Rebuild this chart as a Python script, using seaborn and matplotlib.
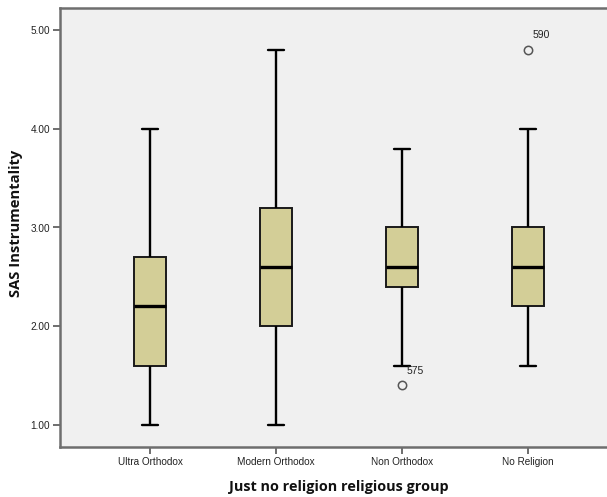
import matplotlib
matplotlib.use("Agg")
import matplotlib.pyplot as plt
import pandas as pd
import seaborn as sns

# Scores per religious group
groups = ["Ultra Orthodox", "Modern Orthodox", "Non Orthodox", "No Religion"]
ultra_orthodox = [1.0, 1.6, 2.2, 2.7, 4.0]
modern_orthodox = [1.0, 2.0, 2.6, 3.2, 4.8]
non_orthodox = [1.4, 1.6, 2.4, 2.5, 2.6, 2.8, 3.0, 3.4, 3.8]
no_religion = [1.6, 2.0, 2.2, 2.4, 2.6, 2.8, 3.0, 4.0, 4.8]

# Case numbers of the outlying respondents
outlier_groups = ["Non Orthodox", "No Religion"]
outlier_values = [1.4, 4.8]
outlier_cases = ["575", "590"]

y_ticks = [1.0, 2.0, 3.0, 4.0, 5.0]

series = [ultra_orthodox, modern_orthodox, non_orthodox, no_religion]
df = pd.DataFrame({
    "group": [g for g, vals in zip(groups, series) for _ in vals],
    "score": [v for vals in series for v in vals],
})

sns.set_style("white")
plt.rcParams["font.family"] = ["Liberation Sans", "DejaVu Sans"]

fig = plt.figure(figsize=(6.07, 4.97), dpi=100)
ax = fig.add_axes([60 / 607, 1 - 447 / 497, 1 - 60 / 607, 439 / 497])
ax.set_facecolor("#f0f0f0")

sns.boxplot(
    data=df, x="group", y="score", order=groups, ax=ax,
    width=0.25, whis=1.5, color="#d3ce97", saturation=1,
    linecolor="#1a1a1a", linewidth=1.4,
    capwidths=0.13,
    medianprops=dict(color="black", linewidth=2.4),
    whiskerprops=dict(color="black", linewidth=1.7),
    capprops=dict(color="black", linewidth=1.7),
    flierprops=dict(marker="o", markerfacecolor="none",
                    markeredgecolor="#555555", markersize=6,
                    markeredgewidth=1.1),
)

for g, v, case in zip(outlier_groups, outlier_values, outlier_cases):
    ax.annotate(case, (groups.index(g), v), xytext=(3, 7),
                textcoords="offset points", fontsize=7.5, color="#222222",
                ha="left", va="bottom")

ax.set_xlim(-0.714, 3.627)
ax.set_ylim(0.777, 5.223)
ax.set_yticks(y_ticks)
ax.set_yticklabels([f"{t:.2f}" for t in y_ticks])

for side in ["left", "bottom", "top"]:
    ax.spines[side].set_color("#6e6e6e")
    ax.spines[side].set_linewidth(1.8)
ax.spines["right"].set_visible(False)

ax.tick_params(axis="both", which="major", direction="out", length=5,
               width=1.2, color="#555555", labelsize=7.2, labelcolor="#222222",
               left=True, bottom=True, pad=2)

ax.set_xlabel("Just no religion religious group", fontsize=10.4,
              fontweight="bold", family="Open Sans", labelpad=8,
              color="#111111")
ax.xaxis.set_label_coords(0.51, -0.075)
ax.set_ylabel("SAS Instrumentality", fontsize=10.6, fontweight="bold",
              family="Open Sans", labelpad=8, color="#111111")
ax.yaxis.set_label_coords(-0.067, 0.51)

fig.savefig("out.png", dpi=100)
